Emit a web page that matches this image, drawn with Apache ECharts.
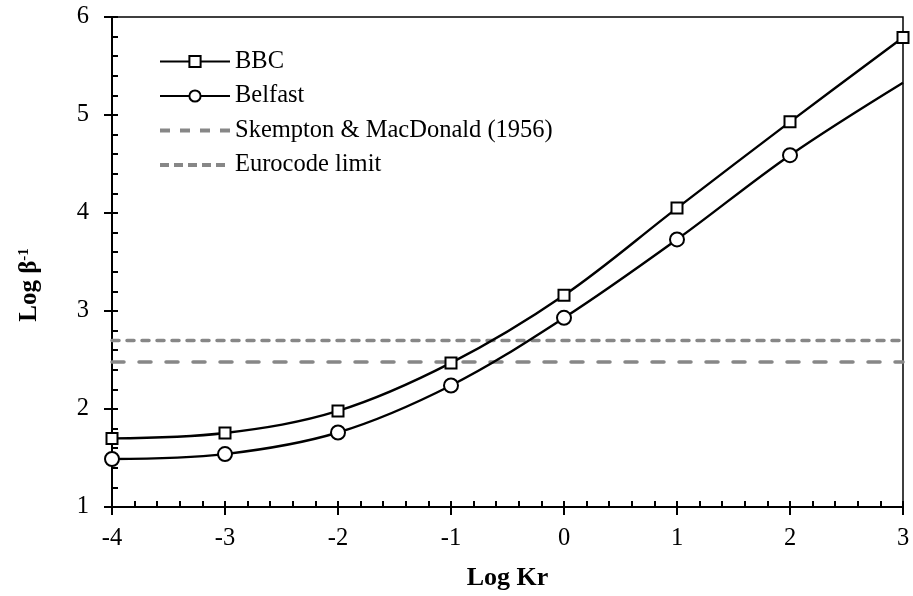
<!DOCTYPE html>
<html>
<head>
<meta charset="utf-8">
<script src="https://cdn.jsdelivr.net/npm/echarts@6/dist/echarts.min.js"></script>
<style>
  html, body { margin: 0; padding: 0; background: #fff; }
  #chart { width: 913px; height: 596px; }
</style>
</head>
<body>
<div id="chart"></div>
<script>
// Log Kr values where the curves were evaluated
const logKr = [-4, -3, -2, -1, 0, 1, 2, 3];
// Log beta^-1 for each site
const bbc = [1.70, 1.755, 1.98, 2.47, 3.16, 4.05, 4.93, 5.79];
const belfast = [1.49, 1.54, 1.76, 2.24, 2.93, 3.73, 4.59, 5.33];
// Horizontal reference levels
const skemptonLevel = 2.48;
const eurocodeLimit = 2.70;
// Axis ranges
const xRange = [-4, 3];
const yRange = [1, 6];

const FONT = '"Liberation Serif", "Times New Roman", serif';
const BLACK = '#000';
const GREY = '#878787';

const pairs = (xs, ys) => xs.map((x, i) => [x, ys[i]]);

const belfastData = pairs(logKr, belfast).map((p, i, arr) =>
  i === arr.length - 1 ? { value: p, symbol: 'none' } : p);

const mainLine = { show: true, onZero: false, lineStyle: { color: BLACK, width: 2 } };
const hiddenLine = { show: false, onZero: false };
const outerTick = { show: true, inside: false, length: 8, lineStyle: { color: BLACK, width: 2 } };
const innerTick = { show: true, inside: true, length: 6, lineStyle: { color: BLACK, width: 2 } };
const minor = { show: true, splitNumber: 5, length: 6, lineStyle: { color: BLACK, width: 2 } };

const skemptonStyle = { color: GREY, width: 3.5, type: [12, 15], cap: 'round' };
const eurocodeStyle = { color: GREY, width: 3.5, type: [7, 8], cap: 'round' };

const chart = echarts.init(document.getElementById('chart'));
chart.setOption({
  animation: false,
  backgroundColor: '#fff',
  grid: {
    left: 112, right: 10, top: 17, bottom: 89,
    show: true, borderColor: BLACK, borderWidth: 1.5, backgroundColor: 'transparent'
  },
  legend: {
    left: 158, top: 49, orient: 'vertical', padding: 0,
    itemWidth: 70, itemHeight: 14, itemGap: 9.5,
    textStyle: { fontFamily: FONT, fontSize: 24.5, color: BLACK, lineHeight: 24 },
    data: [
      { name: 'BBC' },
      { name: 'Belfast' },
      { name: 'Skempton & MacDonald (1956)', itemStyle: { opacity: 0 }, lineStyle: { width: 4, type: [10, 10], cap: 'butt' } },
      { name: 'Eurocode limit', itemStyle: { opacity: 0 }, lineStyle: { width: 4, type: [9, 5], cap: 'butt' } }
    ]
  },
  xAxis: [{
    type: 'value', position: 'bottom', min: xRange[0], max: xRange[1], interval: 1,
    name: 'Log Kr', nameLocation: 'middle', nameGap: 58,
    nameTextStyle: { fontFamily: FONT, fontSize: 26, fontWeight: 'bold', color: BLACK },
    axisLine: mainLine,
    axisTick: outerTick,
    axisLabel: { fontFamily: FONT, fontSize: 24.5, color: BLACK, margin: 19 },
    splitLine: { show: false }
  }, {
    type: 'value', position: 'bottom', min: xRange[0], max: xRange[1], interval: 1,
    axisLine: hiddenLine,
    axisTick: innerTick,
    minorTick: minor,
    axisLabel: { show: false },
    splitLine: { show: false }
  }],
  yAxis: [{
    type: 'value', position: 'left', min: yRange[0], max: yRange[1], interval: 1,
    name: '{b|Log β}{s|-1}', nameLocation: 'middle', nameGap: 70,
    nameTextStyle: {
      fontFamily: FONT, color: BLACK, padding: [0, 46, 0, 0],
      rich: {
        b: { fontFamily: FONT, fontSize: 25, fontWeight: 'bold', color: BLACK },
        s: { fontFamily: FONT, fontSize: 15, fontWeight: 'bold', color: BLACK, verticalAlign: 'top', padding: [0, 0, 9, 0] }
      }
    },
    axisLine: mainLine,
    axisTick: outerTick,
    axisLabel: { fontFamily: FONT, fontSize: 24.5, color: BLACK, margin: 23 },
    splitLine: { show: false }
  }, {
    type: 'value', position: 'left', min: yRange[0], max: yRange[1], interval: 1,
    axisLine: hiddenLine,
    axisTick: innerTick,
    minorTick: minor,
    axisLabel: { show: false },
    splitLine: { show: false }
  }],
  series: [{
    name: 'BBC', type: 'line', smooth: 0.35, clip: false,
    data: pairs(logKr, bbc),
    symbol: 'rect', symbolSize: 11,
    lineStyle: { color: BLACK, width: 2.4 },
    itemStyle: { color: '#fff', borderColor: BLACK, borderWidth: 2 },
    z: 5
  }, {
    name: 'Belfast', type: 'line', smooth: 0.35, clip: false,
    data: belfastData,
    symbol: 'circle', symbolSize: 14,
    lineStyle: { color: BLACK, width: 2.4 },
    itemStyle: { color: '#fff', borderColor: BLACK, borderWidth: 2 },
    z: 5
  }, {
    name: 'Skempton & MacDonald (1956)', type: 'line',
    data: pairs(xRange, [skemptonLevel, skemptonLevel]),
    symbol: 'none',
    lineStyle: skemptonStyle,
    itemStyle: { color: GREY },
    z: 3
  }, {
    name: 'Eurocode limit', type: 'line',
    data: pairs(xRange, [eurocodeLimit, eurocodeLimit]),
    symbol: 'none',
    lineStyle: eurocodeStyle,
    itemStyle: { color: GREY },
    z: 3
  }]
});
</script>
</body>
</html>
